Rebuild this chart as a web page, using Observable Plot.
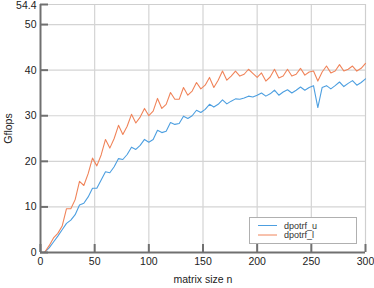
<!DOCTYPE html>
<html>
<head>
<meta charset="utf-8">
<script src="https://cdn.jsdelivr.net/npm/d3@7"></script>
<script src="https://cdn.jsdelivr.net/npm/@observablehq/plot@0.6"></script>
<style>
  body { margin: 0; background: #fff; font-family: "Liberation Sans", Arial, sans-serif; }
  #wrap { position: relative; width: 374px; height: 288px; }
  #legend { position: absolute; left: 249px; top: 217px; width: 106px; height: 25px;
            border: 1px solid #b0b0b0; background: #fff; }
  #legend svg { display: block; }
</style>
</head>
<body>
<div id="wrap"><div id="legend"></div></div>
<script>
const sizes = d3.range(4, 301, 4);
const dpotrf_u = [0.1,1.0,2.3,3.6,5.0,6.4,7.1,8.3,10.4,10.8,12.2,14.1,
  14.1,15.9,17.7,17.5,18.8,20.6,20.4,21.5,23.1,22.6,23.5,24.8,
  24.2,24.8,26.8,26.3,26.6,28.5,28.1,28.3,29.9,29.4,30.0,31.2,
  30.7,31.4,32.5,31.9,32.5,33.5,32.6,33.2,33.7,33.6,33.9,34.3,
  34.1,34.5,35.0,34.3,34.8,35.6,34.5,35.2,35.7,35.0,35.6,36.3,
  35.6,36.2,36.6,31.8,36.2,36.6,35.9,36.6,37.4,36.4,37.1,37.7,
  36.7,37.3,38.1];
const dpotrf_l = [0.1,1.5,3.2,4.2,5.8,9.6,9.6,11.6,15.6,14.7,17.3,20.7,
  19.0,21.4,24.8,22.9,25.0,27.9,25.9,27.7,30.3,28.4,29.7,31.6,
  30.0,31.0,33.8,31.6,32.5,35.1,33.6,33.6,36.2,34.5,35.4,37.3,
  35.9,36.7,38.4,36.2,37.8,39.8,37.8,38.7,39.8,38.7,39.1,40.2,
  39.3,38.4,39.4,37.6,38.5,40.2,38.3,38.7,40.2,38.7,39.1,40.4,
  38.9,39.6,39.8,37.6,39.6,40.9,39.4,39.8,41.2,39.8,40.2,40.9,
  39.8,40.4,41.5];
const seriesNames = ["dpotrf_u", "dpotrf_l"];
const seriesColors = ["#4d9fe0", "#f0845a"];
const xTicks = [0, 50, 100, 150, 200, 250, 300];
const yTicks = [0, 10, 20, 30, 40, 50];
const yMax = 54.4, xMax = 300;

const rows = [];
sizes.forEach((n, i) => {
  rows.push({n, v: dpotrf_u[i], s: seriesNames[0]});
  rows.push({n, v: dpotrf_l[i], s: seriesNames[1]});
});

const W = 374, H = 288, mL = 40, mR = 9, mT = 4, mB = 36;
const plotH = H - mT - mB, plotW = W - mL - mR;
const tickLen = 8;

const chart = Plot.plot({
  width: W, height: H,
  marginLeft: mL, marginRight: mR, marginTop: mT, marginBottom: mB,
  style: {fontFamily: "Liberation Sans, Arial, sans-serif", fontSize: "11px", color: "#222", background: "#fff"},
  x: {domain: [0, xMax]},
  y: {domain: [0, yMax]},
  color: {domain: seriesNames, range: seriesColors},
  marks: [
    Plot.gridX(xTicks.filter(d => d > 0 && d < xMax), {stroke: "#d4d4d4", strokeOpacity: 1, strokeWidth: 1.2}),
    Plot.gridY(yTicks.filter(d => d > 0), {stroke: "#d4d4d4", strokeOpacity: 1, strokeWidth: 1.2}),
    Plot.ruleY([yMax], {stroke: "#cfcfcf", strokeWidth: 1.2}),
    Plot.ruleX([xMax], {stroke: "#cfcfcf", strokeWidth: 1.2}),
    Plot.line(rows, {x: "n", y: "v", z: "s", stroke: "s", strokeWidth: 1.1}),
    Plot.ruleX([0], {stroke: "#707070", strokeWidth: 2}),
    Plot.ruleY([0], {stroke: "#707070", strokeWidth: 2}),
    Plot.tickX(xTicks, {x: d => d, insetTop: plotH - tickLen, stroke: "#707070", strokeWidth: 2}),
    Plot.tickY(yTicks.concat([yMax]), {y: d => d, insetRight: plotW - tickLen, stroke: "#707070", strokeWidth: 2}),
    Plot.axisX(xTicks, {tickSize: 0, tickPadding: 5, fontSize: 10.5, label: "matrix size n", labelAnchor: "center", labelOffset: 30, labelArrow: "none"}),
    Plot.axisY(yTicks, {tickSize: 0, tickPadding: 4, fontSize: 10.5, tickFormat: d => String(d), label: "Gflops", labelAnchor: "center", labelOffset: 36, labelArrow: "none"}),
    Plot.axisY([yMax], {tickSize: 0, tickPadding: 4, fontSize: 10.5, dy: 1.5, tickFormat: d => String(d), label: null})
  ]
});
document.getElementById("wrap").prepend(chart);

// legend
const lg = d3.select("#legend").append("svg").attr("width", 106).attr("height", 25);
seriesNames.forEach((name, i) => {
  const y = 7.5 + i * 9.5;
  lg.append("line").attr("x1", 8).attr("x2", 27).attr("y1", y).attr("y2", y)
    .attr("stroke", seriesColors[i]).attr("stroke-width", 1);
  lg.append("text").attr("x", 34).attr("y", y).attr("dy", "0.35em")
    .attr("font-size", 9).attr("fill", "#333")
    .attr("font-family", "Liberation Sans, Arial, sans-serif").text(name);
});
</script>
</body>
</html>
